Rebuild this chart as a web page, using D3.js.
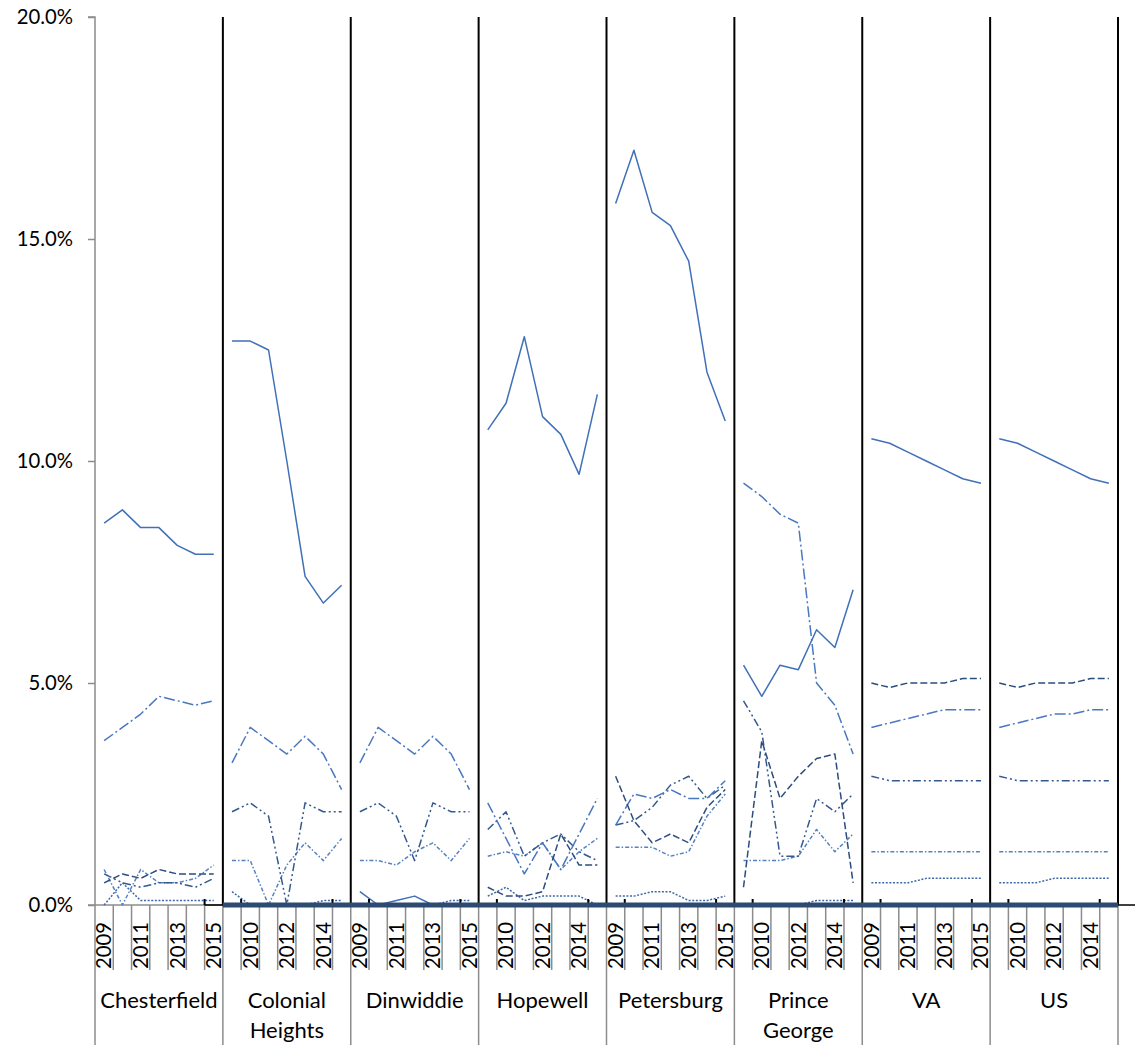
<!DOCTYPE html>
<html>
<head>
<meta charset="utf-8">
<script src="https://cdn.jsdelivr.net/npm/d3@7/dist/d3.min.js"></script>
<style>
  html, body { margin: 0; padding: 0; background: #fff; }
  svg { display: block; }
  text { font-family: Lato, "Noto Sans", sans-serif; fill: #000; }
</style>
</head>
<body>
<svg id="chart" width="1135" height="1045"></svg>
<script>
// Localities shown, left to right, each with a run of years
const groups = ["Chesterfield", "Colonial Heights", "Dinwiddie", "Hopewell",
                "Petersburg", "Prince George", "VA", "US"];
const groupLabelLines = [["Chesterfield"], ["Colonial", "Heights"], ["Dinwiddie"], ["Hopewell"],
                         ["Petersburg"], ["Prince", "George"], ["VA"], ["US"]];
const years = [2009, 2010, 2011, 2012, 2013, 2014, 2015];
const yTicks = [0, 0.05, 0.10, 0.15, 0.20];

// Series values in percent, one row of seven years per locality (same order as groups)
const seriesSolid = [
  [8.6, 8.9, 8.5, 8.5, 8.1, 7.9, 7.9],
  [12.7, 12.7, 12.5, 10.0, 7.4, 6.8, 7.2],
  [0.3, 0.0, 0.1, 0.2, 0.0, 0.0, 0.0],
  [10.7, 11.3, 12.8, 11.0, 10.6, 9.7, 11.5],
  [15.8, 17.0, 15.6, 15.3, 14.5, 12.0, 10.9],
  [5.4, 4.7, 5.4, 5.3, 6.2, 5.8, 7.1],
  [10.5, 10.4, 10.2, 10.0, 9.8, 9.6, 9.5],
  [10.5, 10.4, 10.2, 10.0, 9.8, 9.6, 9.5]
];
const seriesDash = [
  [0.5, 0.7, 0.6, 0.8, 0.7, 0.7, 0.7],
  [0.0, 0.0, 0.0, 0.0, 0.0, 0.0, 0.0],
  [0.0, 0.0, 0.0, 0.0, 0.0, 0.0, 0.0],
  [0.4, 0.2, 0.2, 0.3, 1.6, 0.9, 0.9],
  [2.9, 1.9, 1.4, 1.6, 1.4, 2.2, 2.6],
  [0.4, 3.7, 2.4, 2.9, 3.3, 3.4, 0.5],
  [5.0, 4.9, 5.0, 5.0, 5.0, 5.1, 5.1],
  [5.0, 4.9, 5.0, 5.0, 5.0, 5.1, 5.1]
];
const seriesLongDashDot = [
  [3.7, 4.0, 4.3, 4.7, 4.6, 4.5, 4.6],
  [3.2, 4.0, 3.7, 3.4, 3.8, 3.4, 2.6],
  [3.2, 4.0, 3.7, 3.4, 3.8, 3.4, 2.6],
  [2.3, 1.5, 0.7, 1.4, 0.8, 1.6, 2.4],
  [1.8, 2.5, 2.4, 2.6, 2.4, 2.4, 2.8],
  [9.5, 9.2, 8.8, 8.6, 5.0, 4.5, 3.4],
  [4.0, 4.1, 4.2, 4.3, 4.4, 4.4, 4.4],
  [4.0, 4.1, 4.2, 4.3, 4.3, 4.4, 4.4]
];
const seriesDashDotDot = [
  [0.7, 0.5, 0.4, 0.5, 0.5, 0.4, 0.6],
  [2.1, 2.3, 2.0, 0.0, 2.3, 2.1, 2.1],
  [2.1, 2.3, 2.0, 1.0, 2.3, 2.1, 2.1],
  [1.7, 2.1, 1.1, 1.4, 1.6, 1.2, 1.0],
  [1.8, 1.9, 2.2, 2.7, 2.9, 2.4, 2.7],
  [4.6, 3.9, 1.1, 1.1, 2.4, 2.1, 2.5],
  [2.9, 2.8, 2.8, 2.8, 2.8, 2.8, 2.8],
  [2.9, 2.8, 2.8, 2.8, 2.8, 2.8, 2.8]
];
const seriesDashDot = [
  [0.8, 0.0, 0.8, 0.5, 0.5, 0.6, 0.9],
  [1.0, 1.0, 0.0, 0.9, 1.4, 1.0, 1.5],
  [1.0, 1.0, 0.9, 1.2, 1.4, 1.0, 1.5],
  [1.1, 1.2, 1.1, 1.4, 0.8, 1.2, 1.5],
  [1.3, 1.3, 1.3, 1.1, 1.2, 2.0, 2.5],
  [1.0, 1.0, 1.0, 1.1, 1.7, 1.2, 1.6],
  [1.2, 1.2, 1.2, 1.2, 1.2, 1.2, 1.2],
  [1.2, 1.2, 1.2, 1.2, 1.2, 1.2, 1.2]
];
const seriesDot = [
  [0.0, 0.5, 0.1, 0.1, 0.1, 0.1, 0.1],
  [0.3, 0.0, 0.0, 0.0, 0.0, 0.1, 0.1],
  [0.0, 0.0, 0.0, 0.0, 0.0, 0.1, 0.1],
  [0.2, 0.4, 0.1, 0.2, 0.2, 0.2, 0.0],
  [0.2, 0.2, 0.3, 0.3, 0.1, 0.1, 0.2],
  [0.0, 0.0, 0.0, 0.0, 0.1, 0.1, 0.1],
  [0.5, 0.5, 0.5, 0.6, 0.6, 0.6, 0.6],
  [0.5, 0.5, 0.5, 0.6, 0.6, 0.6, 0.6]
];

// Drawing styles for each series
const seriesList = [
  { values: seriesDot,         color: "#3e68a8", dash: "2,1.6" },
  { values: seriesDashDot,     color: "#5582c2", dash: "4,2,1.5,2" },
  { values: seriesDashDotDot,  color: "#35598f", dash: "8,3,2,3,2,3" },
  { values: seriesLongDashDot, color: "#4a78be", dash: "11,3,2,3" },
  { values: seriesDash,        color: "#2b4d7e", dash: "7,3" },
  { values: seriesSolid,       color: "#4070b8", dash: null }
];

const svg = d3.select("#chart");
const plotLeft = 95, plotRight = 1118, plotTop = 17, plotBottom = 905;
const nYears = years.length;
const cats = d3.range(groups.length * nYears);

const x = d3.scaleBand().domain(cats).range([plotLeft, plotRight]).padding(0);
const bw = x.bandwidth();
const cx = i => x(i) + bw / 2;
const y = d3.scaleLinear().domain([0, 0.20]).range([plotBottom, plotTop]);

const grey = "#8c8c8c";

// Category tick lines below the axis (year level short, locality level long)
const tickG = svg.append("g");
cats.concat([cats.length]).forEach(k => {
  const xx = k < cats.length ? x(k) : plotRight;
  const isGroupEdge = k % nYears === 0;
  tickG.append("line")
    .attr("x1", xx).attr("x2", xx)
    .attr("y1", plotBottom).attr("y2", isGroupEdge ? 1045 : 970)
    .attr("stroke", grey).attr("stroke-width", 1.5);
});

// Year labels on every other category
const yearG = svg.append("g");
cats.filter(k => k % 2 === 0).forEach(k => {
  yearG.append("text")
    .attr("transform", `translate(${cx(k)},969) rotate(-90)`)
    .attr("dy", "0.36em")
    .attr("font-size", 20.3)
    .text(years[k % nYears]);
});

// Locality labels
const grpG = svg.append("g");
groups.forEach((g, gi) => {
  const gx = (x(gi * nYears) + (gi === groups.length - 1 ? plotRight : x((gi + 1) * nYears))) / 2;
  const t = grpG.append("text").attr("text-anchor", "middle").attr("font-size", 22);
  groupLabelLines[gi].forEach((line, li) => {
    t.append("tspan").attr("x", gx).attr("y", 1008 + li * 30).text(line);
  });
});

// Y axis
const yAxis = svg.append("g")
  .attr("transform", `translate(${plotLeft},0)`)
  .call(d3.axisLeft(y).tickValues(yTicks).tickFormat(d3.format(".1%")).tickSize(7).tickPadding(15));
yAxis.select(".domain").attr("stroke", grey).attr("stroke-width", 1.5).attr("d", `M-7,${plotTop}H0V${plotBottom}`);
yAxis.selectAll(".tick line").attr("stroke", grey).attr("stroke-width", 1.5);
yAxis.selectAll(".tick text").attr("font-size", 20.3).attr("font-family", "Lato, 'Noto Sans', sans-serif").attr("fill", "#000");

// Category axis baseline
svg.append("line")
  .attr("x1", plotLeft - 7).attr("x2", plotRight)
  .attr("y1", plotBottom).attr("y2", plotBottom)
  .attr("stroke", grey).attr("stroke-width", 1.5);

// Locality separators
const sepG = svg.append("g");
d3.range(1, groups.length + 1).forEach(gi => {
  const xx = gi < groups.length ? x(gi * nYears) : plotRight;
  sepG.append("line")
    .attr("x1", xx).attr("x2", xx)
    .attr("y1", plotTop).attr("y2", plotBottom)
    .attr("stroke", "#000").attr("stroke-width", 2);
});

// Series lines, drawn separately for each locality
const line = d3.line().x(d => cx(d.k)).y(d => y(d.v / 100));
const linesG = svg.append("g").attr("fill", "none");
seriesList.forEach(s => {
  s.values.forEach((row, gi) => {
    const pts = row.map((v, j) => ({ k: gi * nYears + j, v }));
    const p = linesG.append("path")
      .attr("d", line(pts))
      .attr("stroke", s.color)
      .attr("stroke-width", 1.5)
      .attr("stroke-linejoin", "round");
    if (s.dash) p.attr("stroke-dasharray", s.dash);
  });
});

// Secondary baseline with small black ticks
svg.append("line")
  .attr("x1", x(nYears - 1)).attr("x2", 1135)
  .attr("y1", plotBottom).attr("y2", plotBottom)
  .attr("stroke", "#000").attr("stroke-width", 1.5);
d3.range(1, groups.length + 1).forEach(gi => {
  [gi * nYears - 1, gi * nYears + 1].filter(k => k < cats.length).forEach(k => {
    svg.append("line")
      .attr("x1", x(k)).attr("x2", x(k))
      .attr("y1", plotBottom - 6).attr("y2", plotBottom)
      .attr("stroke", "#000").attr("stroke-width", 2);
  });
});

// Zero line across the localities
svg.append("line")
  .attr("x1", x(nYears)).attr("x2", plotRight)
  .attr("y1", plotBottom).attr("y2", plotBottom)
  .attr("stroke", "#2d4b70").attr("stroke-width", 5);
</script>
</body>
</html>
